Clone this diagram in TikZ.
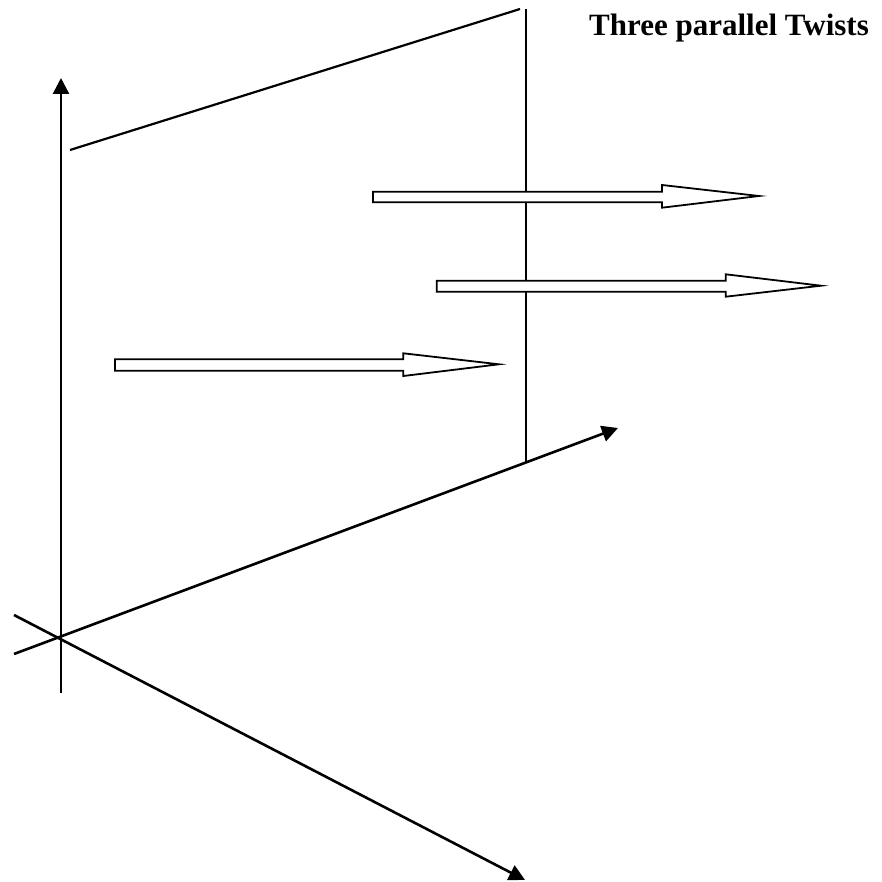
\documentclass[tikz,border=0pt]{standalone}
\usepackage{fontspec}
\setmainfont{Liberation Serif}
\usetikzlibrary{arrows.meta}
\begin{document}
\begin{tikzpicture}[x=1pt,y=-1pt,
  axis/.style={line width=2.6pt,-{Triangle[length=16pt,width=16pt]}},
  plain/.style={line width=2.2pt},
  twist/.style={line width=1.8pt,fill=white,line join=miter}]
\useasboundingbox (0,0) rectangle (881,882);
% coordinates
\coordinate (O) at (61,638);
\coordinate (ztip) at (61,78);
\coordinate (zbot) at (61,693);
\coordinate (ystart) at (14,654);
\coordinate (ytip) at (618,428);
\coordinate (xstart) at (14,615);
\coordinate (xtip) at (525,880);
\coordinate (p1) at (70,150);
\coordinate (p2) at (520,9);
\coordinate (p3) at (526,9);
\coordinate (p4) at (526,463);
% axes
\draw[axis] (zbot) -- (ztip);
\draw[axis] (ystart) -- (ytip);
\draw[axis] (xstart) -- (xtip);
% plane
\draw[plain] (p1) -- (p2);
\draw[plain] (p3) -- (p4);
% hollow twist arrows
\draw[twist] (373,191.7) -- (662,191.7) -- (662,185) -- (759,196) -- (662,207.7) -- (662,202.3) -- (373,202.3) -- cycle;
\draw[twist] (436.7,280.7) -- (725.7,280.7) -- (725.7,274.3) -- (821,285.7) -- (725.7,296.7) -- (725.7,291.7) -- (436.7,291.7) -- cycle;
\draw[twist] (115,359.3) -- (403.3,359.3) -- (403.3,353.3) -- (499,364.3) -- (403.3,376) -- (403.3,370.7) -- (115,370.7) -- cycle;
% title
\node[anchor=base, font=\bfseries\fontsize{31}{36}\selectfont, inner sep=0pt] (title) at (729,36) {Three parallel Twists};
\end{tikzpicture}
\end{document}
